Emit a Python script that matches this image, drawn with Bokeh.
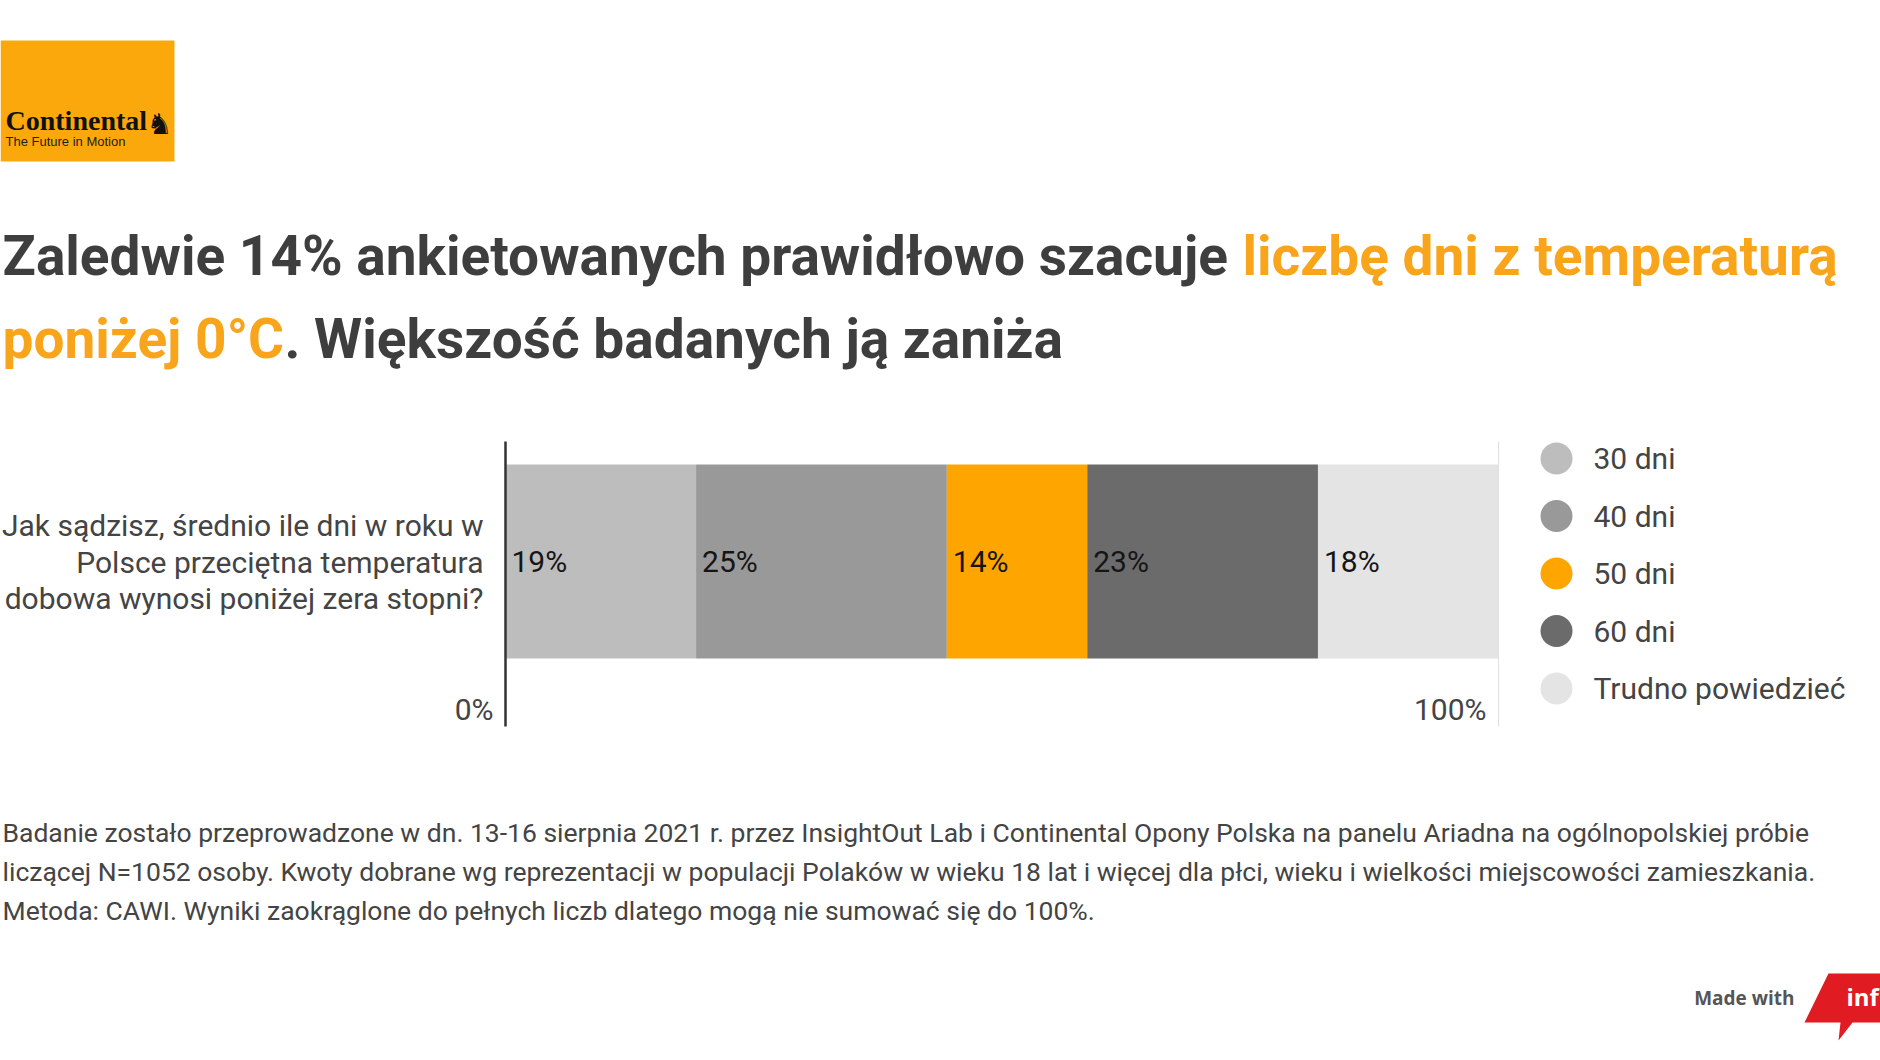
from bokeh.plotting import figure
from bokeh.models import Label, BoxAnnotation, PolyAnnotation, Range1d, ColumnDataSource
from bokeh.core.properties import value
from bokeh.embed import file_html
from bokeh.resources import INLINE
import numpy as np

# ---------------- data ----------------
categories = ["30 dni", "40 dni", "50 dni", "60 dni", "Trudno powiedzieć"]
shares = [19, 25, 14, 23, 18]
colors = ["#BDBDBD", "#999999", "#FFA500", "#6B6B6B", "#E4E4E4"]
question_lines = ["Jak sądzisz, średnio ile dni w roku w",
                  "Polsce przeciętna temperatura",
                  "dobowa wynosi poniżej zera stopni?"]
axis_labels = ["0%", "100%"]
title_line1 = ["Zaledwie 14% ankietowanych prawidłowo szacuje ", "liczbę dni z temperaturą"]
title_line2 = ["poniżej 0°C", ". Większość badanych ją zaniża"]
footer_lines = [
    "Badanie zostało przeprowadzone w dn. 13-16 sierpnia 2021 r. przez InsightOut Lab i Continental Opony Polska na panelu Ariadna na ogólnopolskiej próbie",
    "liczącej N=1052 osoby. Kwoty dobrane wg reprezentacji w populacji Polaków w wieku 18 lat i więcej dla płci, wieku i wielkości miejscowości zamieszkania.",
    "Metoda: CAWI. Wyniki zaokrąglone do pełnych liczb dlatego mogą nie sumować się do 100%.",
]

# ---------------- layout constants (page pixels) ----------------
W, H = 1880, 1060
BAR_L, BAR_R = 505, 1498          # where 0% and 100% sit on the page
DARK = "#3E3E3E"
TXT = "#444444"
ORANGE_T = "#F8A51B"
LEFT = 2

total = sum(shares)
lefts = np.concatenate([[0], np.cumsum(shares)[:-1]])
rights = np.cumsum(shares)
ppu = (BAR_R - BAR_L) / total     # page pixels per percentage unit

p = figure(width=W, height=H, output_backend="svg", toolbar_location=None,
           x_range=Range1d(0, W), y_range=Range1d(H, 0),
           x_axis_type=None, y_axis_type=None, title=None,
           min_border=0, min_border_left=0, min_border_right=0,
           min_border_top=0, min_border_bottom=0)
p.extra_x_ranges = {"pct": Range1d(-BAR_L / ppu, (W - BAR_L) / ppu)}
p.outline_line_color = None
p.grid.visible = False
p.background_fill_color = "white"
p.border_fill_color = "white"

src = ColumnDataSource(dict(left=lefts, right=rights, color=colors, cat=categories,
                            lab=[f"{v}%" for v in shares]))
p.hbar(y=561, left="left", right="right", height=194, fill_color="color",
       line_color=None, source=src, x_range_name="pct")
p.text(x="left", y=561, text="lab", source=src, x_offset=6, x_range_name="pct",
       text_font=value("Roboto"), text_font_size="30px", text_color="#151515",
       text_baseline="middle", text_align="left")

# axis-like vertical lines at 0% and 100%
p.segment(x0=[0], x1=[0], y0=[441], y1=[726], line_color="#333333", line_width=2.5,
          x_range_name="pct")
p.segment(x0=[total], x1=[total], y0=[441], y1=[726], line_color="#E0E0E0", line_width=1,
          x_range_name="pct")

# 0% / 100% labels
p.text(x=[0, total], y=[709, 709], text=axis_labels, x_offset=-12, x_range_name="pct",
       text_font=value("Roboto"), text_font_size="30px", text_color=TXT,
       text_align="right", text_baseline="middle")

# question text
p.text(x=[483] * 3, y=[525, 561.5, 598], text=question_lines,
       text_font=value("Roboto"), text_font_size="30px", text_color=TXT,
       text_align="right", text_baseline="middle")

# title
TS = "55px"
def title_part(x, y, t, c):
    p.add_layout(Label(x=x, y=y, text=t, text_font="Roboto", text_font_style="bold",
                       text_font_size=TS, text_color=c, text_baseline="middle"))

title_part(LEFT, 255, title_line1[0], DARK)
title_part(LEFT + 1240, 255, title_line1[1], ORANGE_T)
title_part(LEFT, 338, title_line2[0], ORANGE_T)
title_part(LEFT + 282, 338, title_line2[1], DARK)

# legend
leg_y = [458 + 57.5 * i for i in range(len(categories))]
p.scatter(x=[1556] * len(categories), y=leg_y, size=32, marker="circle",
          fill_color=colors, line_color=None)
p.text(x=[1593] * len(categories), y=leg_y, text=categories,
       text_font=value("Roboto"), text_font_size="30px", text_color=TXT,
       text_baseline="middle")

# footer
p.text(x=[LEFT] * 3, y=[832, 871, 910], text=footer_lines,
       text_font=value("Roboto"), text_font_size="26.5px", text_color=TXT,
       text_baseline="middle")

# logo
p.add_layout(BoxAnnotation(left=0, right=174, top=40, bottom=161,
                           fill_color="#FBA80C", fill_alpha=1, line_color=None))
p.add_layout(Label(x=5, y=120, text="Continental",
                   text_font="Liberation Serif", text_font_style="bold", text_font_size="28px",
                   text_color="#111111", text_baseline="alphabetic"))
p.add_layout(Label(x=146, y=123, text="♞",
                   text_font="DejaVu Sans", text_font_size="29px",
                   text_color="#111111", text_baseline="alphabetic"))
p.add_layout(Label(x=5, y=141, text="The Future in Motion",
                   text_font="Liberation Sans", text_font_size="13px",
                   text_color="#222222", text_baseline="middle"))

# made with
p.add_layout(Label(x=1794, y=997, text="Made with",
                   text_font="Open Sans", text_font_style="bold", text_font_size="19px",
                   text_color="#555555", text_align="right", text_baseline="middle"))
p.add_layout(PolyAnnotation(xs=[1828, 1880, 1880, 1852, 1838, 1840, 1804],
                            ys=[973, 973, 1022, 1022, 1040, 1022, 1022],
                            fill_color="#E01B22", fill_alpha=1, line_color=None))
p.add_layout(Label(x=1846, y=996, text="inf",
                   text_font="Open Sans", text_font_style="bold", text_font_size="24px",
                   text_color="white", text_baseline="middle"))

open("out.html", "w").write(file_html(p, INLINE))
